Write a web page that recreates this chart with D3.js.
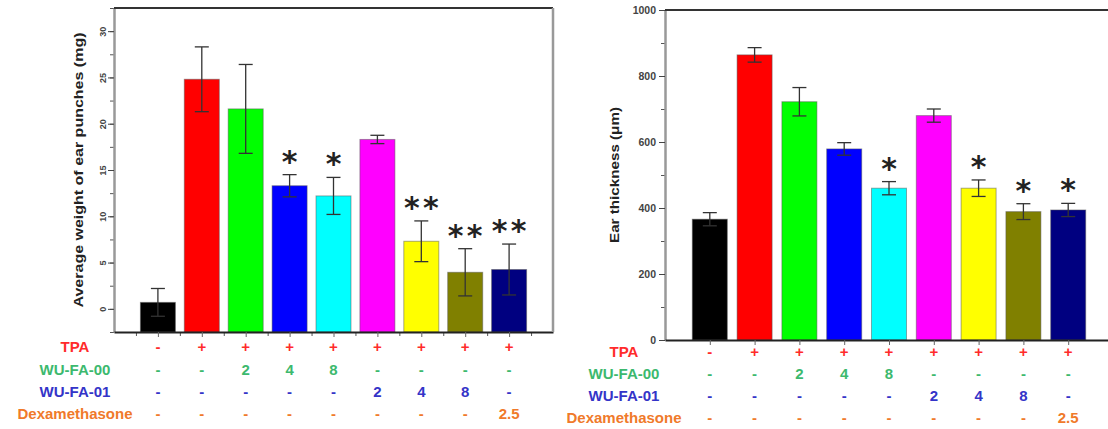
<!DOCTYPE html>
<html>
<head>
<meta charset="utf-8">
<script src="https://cdn.jsdelivr.net/npm/d3@7"></script>
<style>
  body { margin: 0; background: #fff; }
  svg { display: block; }
  text { font-family: "Liberation Sans", Arial, sans-serif; }
</style>
</head>
<body>
<svg id="chart" width="1108" height="429"></svg>
<script>
// groups, left to right
const groups = ["Control", "TPA", "WU-FA-00 2", "WU-FA-00 4", "WU-FA-00 8", "WU-FA-01 2", "WU-FA-01 4", "WU-FA-01 8", "Dexamethasone 2.5"];
const barColors = ["#000000", "#ff0000", "#00ff00", "#0000ff", "#00ffff", "#ff00ff", "#ffff00", "#808000", "#000080"];

// left panel: ear punch weight (mg)
const weightMean = [0.7, 24.8, 21.6, 13.3, 12.2, 18.3, 7.3, 3.95, 4.25];
const weightErr = [1.5, 3.5, 4.8, 1.2, 2.0, 0.45, 2.2, 2.55, 2.75];
const weightStars = ["", "", "", "*", "*", "", "**", "**", "**"];
const weightTicks = [0, 5, 10, 15, 20, 25, 30];

// right panel: ear thickness (um)
const thicknessMean = [366, 864, 722, 579, 460, 680, 460, 389, 394];
const thicknessErr = [20, 22, 43, 19, 20, 20, 25, 24, 20];
const thicknessStars = ["", "", "", "", "*", "", "*", "*", "*"];
const thicknessTicks = [0, 200, 400, 600, 800, 1000];

// treatment table
const rowLabels = ["TPA", "WU-FA-00", "WU-FA-01", "Dexamethasone"];
const rowColors = ["#ff2b2b", "#3cb96e", "#3434c8", "#f07a2a"];
const tpaRow = ["-", "+", "+", "+", "+", "+", "+", "+", "+"];
const fa00Row = ["-", "-", "2", "4", "8", "-", "-", "-", "-"];
const fa01Row = ["-", "-", "-", "-", "-", "2", "4", "8", "-"];
const dexRow = ["-", "-", "-", "-", "-", "-", "-", "-", "2.5"];
const tableRows = [tpaRow, fa00Row, fa01Row, dexRow];

const svg = d3.select("#chart");

function drawPanel(p) {
  const x = d3.scaleLinear().domain([-1, 9]).range([p.left, p.right]);
  const y = d3.scaleLinear().domain(p.yDomain).range([p.bottom, p.top]);
  const g = svg.append("g");
  const base = y(p.yDomain[0]);

  // bars
  g.selectAll("rect.bar")
    .data(p.values)
    .join("rect")
    .attr("class", "bar")
    .attr("x", (d, i) => x(i) - p.barWidth / 2)
    .attr("y", (d) => y(d))
    .attr("width", p.barWidth)
    .attr("height", (d) => base - y(d))
    .attr("fill", (d, i) => barColors[i])
    .attr("stroke", "#555")
    .attr("stroke-opacity", 0.5);

  // error bars
  const cap = 7;
  const err = g.selectAll("g.err")
    .data(p.values)
    .join("g")
    .attr("class", "err")
    .attr("stroke", "#333")
    .attr("stroke-width", 1.3);
  err.append("line")
    .attr("x1", (d, i) => x(i))
    .attr("x2", (d, i) => x(i))
    .attr("y1", (d, i) => y(d - p.errors[i]))
    .attr("y2", (d, i) => y(d + p.errors[i]));
  err.append("line")
    .attr("x1", (d, i) => x(i) - cap)
    .attr("x2", (d, i) => x(i) + cap)
    .attr("y1", (d, i) => y(d + p.errors[i]))
    .attr("y2", (d, i) => y(d + p.errors[i]));
  err.append("line")
    .attr("x1", (d, i) => x(i) - cap)
    .attr("x2", (d, i) => x(i) + cap)
    .attr("y1", (d, i) => y(d - p.errors[i]))
    .attr("y2", (d, i) => y(d - p.errors[i]));

  // significance stars
  p.stars.forEach((s, i) => {
    s.split("").forEach((c, k) => {
      g.append("text")
        .attr("x", x(i) + (k - (s.length - 1) / 2) * 19)
        .attr("y", y(p.values[i] + p.errors[i]) - 20 + 17)
        .attr("text-anchor", "middle")
        .style("font-family", "'DejaVu Sans', sans-serif")
        .style("font-weight", "bold")
        .style("font-size", "30px")
        .attr("fill", "#222")
        .text(c);
    });
  });

  // y axis, minor then major
  g.append("g")
    .attr("transform", `translate(${p.left},0)`)
    .call(d3.axisLeft(y).tickValues(p.minorTicks).tickSize(4).tickFormat(""))
    .call((a) => a.select(".domain").remove())
    .selectAll("line").attr("stroke", "#555");

  const yAxis = g.append("g")
    .attr("transform", `translate(${p.left},0)`)
    .call(d3.axisLeft(y).tickValues(p.ticks).tickSize(6).tickSizeOuter(0).tickPadding(3).tickFormat(d3.format("d")));
  yAxis.select(".domain").attr("stroke", "#999").attr("stroke-width", 2.5);
  yAxis.selectAll(".tick line").attr("stroke", "#444");
  yAxis.selectAll(".tick text")
    .attr("fill", "#444")
    .style("font-size", `${p.tickSize}px`)
    .style("font-weight", "bold");
  if (p.rotateTickLabels) {
    yAxis.selectAll(".tick text")
      .attr("x", null)
      .attr("dy", null)
      .attr("text-anchor", "middle")
      .attr("transform", "translate(-8,0) rotate(-90)");
  }

  // x axis
  if (p.xMinor) {
    g.append("g")
      .attr("transform", `translate(0,${p.bottom})`)
      .call(d3.axisBottom(x).tickValues(d3.range(-0.5, 9, 1)).tickSize(4).tickFormat(""))
      .call((a) => a.select(".domain").remove())
      .selectAll("line").attr("stroke", "#555");
  }
  const xAxis = g.append("g")
    .attr("transform", `translate(0,${p.bottom})`)
    .call(d3.axisBottom(x).tickValues(d3.range(9)).tickSize(5).tickSizeOuter(0).tickFormat(""));
  xAxis.select(".domain").attr("stroke", "#222").attr("stroke-width", 2);
  xAxis.selectAll(".tick line").attr("stroke", "#666");

  // frame
  g.append("line")
    .attr("x1", p.left).attr("x2", p.right)
    .attr("y1", p.top).attr("y2", p.top)
    .attr("stroke", "#333").attr("stroke-width", 2);
  if (p.rightBorder) {
    g.append("line")
      .attr("x1", p.right).attr("x2", p.right)
      .attr("y1", p.top).attr("y2", p.bottom)
      .attr("stroke", "#999").attr("stroke-width", 2.5);
  }

  // y title
  g.append("text")
    .attr("transform", `translate(${p.titleX},${(p.top + p.bottom) / 2}) rotate(-90)`)
    .attr("text-anchor", "middle")
    .attr("textLength", p.titleLength)
    .attr("lengthAdjust", "spacingAndGlyphs")
    .attr("fill", "#222")
    .style("font-size", `${p.titleSize}px`)
    .style("font-weight", "bold")
    .text(p.title);

  // treatment table
  tableRows.forEach((row, r) => {
    const ty = p.rowY[r] + 5.5;
    g.append("text")
      .attr("x", p.labelX)
      .attr("y", ty)
      .attr("text-anchor", "middle")
      .attr("fill", rowColors[r])
      .style("font-size", "15px")
      .style("font-weight", "bold")
      .text(rowLabels[r]);
    g.selectAll(null)
      .data(row)
      .join("text")
      .attr("x", (d, i) => x(i))
      .attr("y", ty)
      .attr("text-anchor", "middle")
      .attr("fill", rowColors[r])
      .style("font-size", "15px")
      .style("font-weight", "bold")
      .text((d) => d);
  });
}

drawPanel({
  left: 114, right: 553, top: 8, bottom: 332,
  yDomain: [-2.5, 32.5],
  values: weightMean, errors: weightErr, stars: weightStars,
  ticks: weightTicks, minorTicks: d3.range(-2.5, 32.6, 2.5), tickSize: 9,
  barWidth: 35, rotateTickLabels: true, xMinor: true, rightBorder: true,
  title: "Average weight of ear punches (mg)", titleX: 83, titleLength: 275, titleSize: 13,
  labelX: 75, rowY: [346.7, 369.5, 391.7, 413.3],
});

drawPanel({
  left: 665, right: 1113, top: 10, bottom: 340,
  yDomain: [0, 1000],
  values: thicknessMean, errors: thicknessErr, stars: thicknessStars,
  ticks: thicknessTicks, minorTicks: d3.range(100, 1000, 200), tickSize: 10.5,
  barWidth: 35, rotateTickLabels: false, xMinor: false, rightBorder: false,
  title: "Ear thickness (\u03bcm)", titleX: 619, titleLength: 136, titleSize: 12,
  labelX: 624, rowY: [351.7, 373.3, 395, 417],
});
</script>
</body>
</html>
